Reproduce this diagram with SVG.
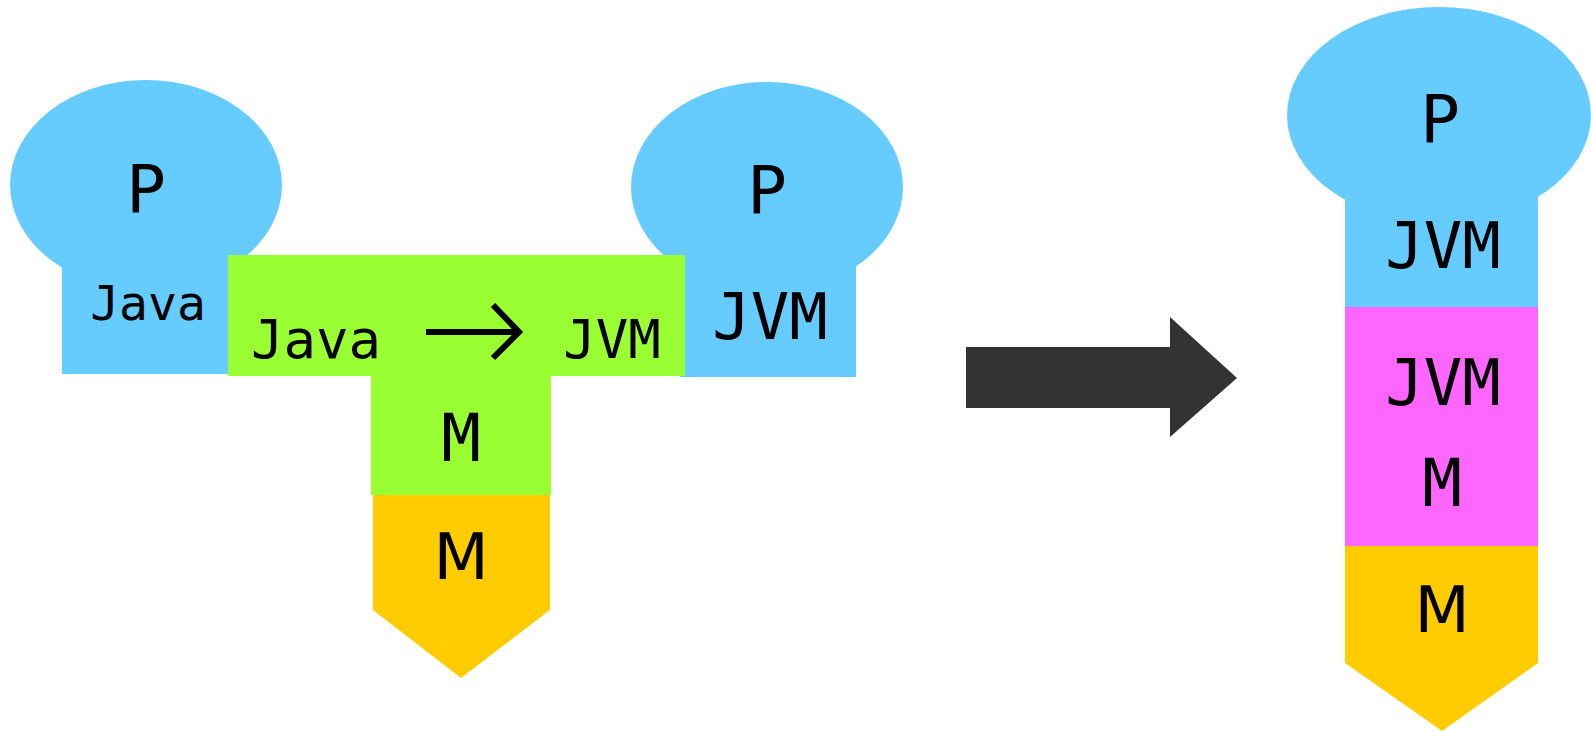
<svg xmlns="http://www.w3.org/2000/svg" width="1591" height="731" viewBox="0 0 1591 731">
  <style>
    .blue { fill: #66CCFF; }
    .green { fill: #99FF33; }
    .yellow { fill: #FFCC00; }
    .pink { fill: #FF66FF; }
    .mono { font-family: "DejaVu Sans Mono", "Liberation Mono", monospace; fill: #000; text-anchor: middle; }
    .sans { font-family: "DejaVu Sans", "Liberation Sans", sans-serif; fill: #000; text-anchor: middle; }
  </style>
  <rect width="1591" height="731" fill="#FFFFFF"/>

  <!-- left program on Java -->
  <g id="program-java">
    <ellipse class="blue" cx="146" cy="185" rx="136" ry="105"/>
    <rect class="blue" x="62" y="250" width="170" height="124"/>
    <text class="mono" x="146" y="212" font-size="66">P</text>
    <text class="mono" x="148" y="320" font-size="48">Java</text>
  </g>

  <!-- right program on JVM -->
  <g id="program-jvm">
    <ellipse class="blue" cx="767" cy="187" rx="136" ry="105"/>
    <rect class="blue" x="680" y="250" width="176" height="127"/>
    <text class="mono" x="767" y="213" font-size="66">P</text>
    <text class="mono" x="770" y="339" font-size="64">JVM</text>
  </g>

  <!-- translator: Java to JVM, running on M -->
  <g id="translator">
    <polygon class="green" points="228,255 685,255 685,376 551,376 551,495 371,495 371,376 228,376"/>
    <text class="mono" x="316" y="358" font-size="54">Java</text>
    <path d="M426,332 H519 M493,305 L519,332 L493,358" fill="none" stroke="#000" stroke-width="6"/>
    <text class="mono" x="612" y="358" font-size="54">JVM</text>
    <text class="mono" x="461" y="461" font-size="66">M</text>
  </g>

  <!-- machine M -->
  <g id="machine-left">
    <polygon class="yellow" points="373,495 550,495 550,610 461,678 373,610"/>
    <text class="sans" x="461" y="579" font-size="64">M</text>
  </g>

  <!-- big transition arrow -->
  <g id="connectors">
    <polygon fill="#333333" points="966,347 1170,347 1170,317 1237,378 1170,437 1170,408 966,408"/>
  </g>

  <!-- resulting stack -->
  <g id="stack-program">
    <ellipse class="blue" cx="1439" cy="115" rx="152" ry="108"/>
    <rect class="blue" x="1345" y="150" width="193" height="158"/>
    <text class="mono" x="1440" y="142" font-size="66">P</text>
    <text class="mono" x="1443" y="268" font-size="64">JVM</text>
  </g>

  <g id="stack-interpreter">
    <rect class="pink" x="1345" y="307" width="193" height="240"/>
    <text class="mono" x="1443" y="405" font-size="64">JVM</text>
    <text class="mono" x="1442" y="506" font-size="66">M</text>
  </g>

  <g id="stack-machine">
    <polygon class="yellow" points="1345,546 1538,546 1538,663 1442,731 1345,663"/>
    <text class="sans" x="1442" y="632" font-size="64">M</text>
  </g>
</svg>
